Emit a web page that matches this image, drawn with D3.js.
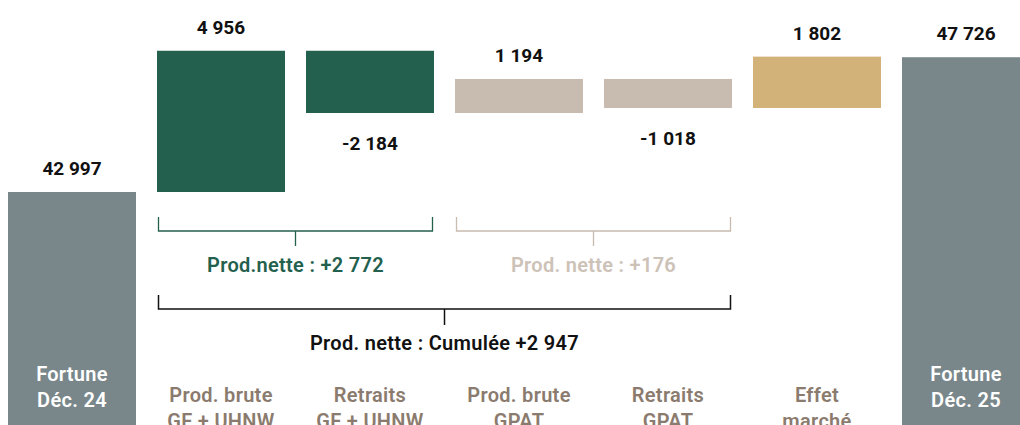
<!DOCTYPE html>
<html lang="fr">
<head>
  <meta charset="UTF-8">
  <title>Fortune - pont Déc. 24 / Déc. 25</title>
  <style>
    body { margin: 0; background: #fff; }
    svg { display: block; font-family: Roboto, "Noto Sans", sans-serif; }
  </style>
  <script src="https://d3js.org/d3.v7.min.js"></script>
</head>
<body>
  <svg id="chart"></svg>
  <script>
    const width = 1020, height = 425;

    // data
    const categories = ['dec24', 'brGF', 'retGF', 'brGPAT', 'retGPAT', 'marche', 'dec25'];
    const labels = [
      ['Fortune', 'Déc. 24'], ['Prod. brute', 'GF + UHNW'], ['Retraits', 'GF + UHNW'],
      ['Prod. brute', 'GPAT'], ['Retraits', 'GPAT'], ['Effet', 'marché'], ['Fortune', 'Déc. 25']
    ];
    const values = [42997, 4956, -2184, 1194, -1018, 1802, 47726];
    const kinds = ['total', 'gf', 'gf', 'gpat', 'gpat', 'market', 'total'];
    const valueLabels = ['42 997', '4 956', '-2 184', '1 194', '-1 018', '1 802', '47 726'];

    // brackets: first and last category covered, label
    const brackets = [
      { from: 'brGF', to: 'retGF', text: 'Prod.nette : +2 772', kind: 'gf', row: 0 },
      { from: 'brGPAT', to: 'retGPAT', text: 'Prod. nette : +176', kind: 'gpatText', row: 0 },
      { from: 'brGF', to: 'retGPAT', text: 'Prod. nette : Cumulée +2 947', kind: 'cumul', row: 1 }
    ];

    const colors = {
      total: '#79878b', gf: '#24604e', gpat: '#c8bbaf', market: '#d3b27a',
      gpatText: '#cdc2b7', cumul: '#111111', catText: '#8b7b6e'
    };

    const svg = d3.select('#chart').attr('width', width).attr('height', height);

    const x = d3.scaleBand()
      .domain(categories)
      .range([8, 1030])
      .paddingInner(21 / 149)
      .paddingOuter(0);

    // broken axis : only the top of the totals is shown
    const y = d3.scaleLinear()
      .domain([42997, 47997])
      .range([192, 49.5]);

    // waterfall steps
    let run = 0;
    const bars = categories.map((c, i) => {
      const v = values[i];
      let y0, y1;
      if (kinds[i] === 'total') {
        y0 = y(v); y1 = height;
        run = v;
      } else {
        const start = run, end = run + v;
        y0 = y(Math.max(start, end));
        y1 = y(Math.min(start, end));
        run = end;
      }
      return { c, i, v, y0, y1, kind: kinds[i] };
    });

    svg.append('g')
      .selectAll('rect')
      .data(bars)
      .join('rect')
      .attr('x', d => x(d.c))
      .attr('y', d => d.y0)
      .attr('width', x.bandwidth())
      .attr('height', d => d.y1 - d.y0)
      .attr('fill', d => colors[d.kind]);

    // value labels
    svg.append('g')
      .selectAll('text')
      .data(bars)
      .join('text')
      .attr('x', d => x(d.c) + x.bandwidth() / 2)
      .attr('y', d => d.v < 0 ? d.y1 + 37 : d.y0 - 17)
      .attr('text-anchor', 'middle')
      .attr('font-size', 19)
      .attr('font-weight', 700)
      .attr('fill', '#111')
      .text(d => valueLabels[d.i]);

    // category labels
    const cat = svg.append('g')
      .selectAll('text')
      .data(bars)
      .join('text')
      .attr('text-anchor', 'middle')
      .attr('font-size', 20)
      .attr('font-weight', 600)
      .attr('letter-spacing', 0.3)
      .attr('fill', d => d.kind === 'total' ? '#ffffff' : colors.catText)
      .attr('x', d => x(d.c) + x.bandwidth() / 2)
      .attr('y', d => d.kind === 'total' ? 381 : 402);
    cat.selectAll('tspan')
      .data(d => labels[d.i].map(t => ({ t, d })))
      .join('tspan')
      .attr('x', o => x(o.d.c) + x.bandwidth() / 2)
      .attr('dy', (o, j) => j === 0 ? 0 : 26)
      .text(o => o.t);

    // brackets
    const rows = [{ line: 231, top: 217, tick: 246, text: 272 }, { line: 309, top: 295, tick: 325, text: 350 }];
    const bg = svg.append('g').attr('fill', 'none');
    brackets.forEach(b => {
      const r = rows[b.row];
      const x0 = x(b.from) + 1.5, x1 = x(b.to) + x.bandwidth() - 1.5;
      const xm = (x0 + x1) / 2;
      const col = b.kind === 'gpatText' ? colors.gpat : colors[b.kind];
      bg.append('path')
        .attr('d', `M${x0},${r.top}V${r.line}H${x1}V${r.top}M${xm},${r.line}V${r.tick}`)
        .attr('stroke', col)
        .attr('stroke-width', b.row === 1 ? 1.5 : 1.3);
      svg.append('text')
        .attr('x', xm)
        .attr('y', r.text)
        .attr('text-anchor', 'middle')
        .attr('font-size', 20)
        .attr('font-weight', 600)
        .attr('letter-spacing', 0.3)
        .attr('fill', colors[b.kind])
        .text(b.text);
    });
  </script>
</body>
</html>
